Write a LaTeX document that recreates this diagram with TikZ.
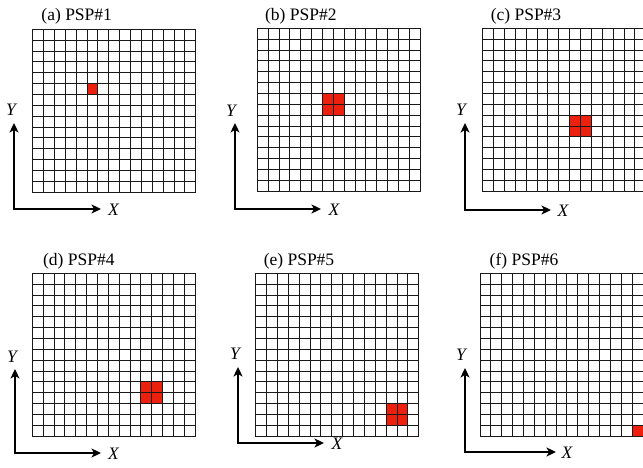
\documentclass[tikz,border=0pt]{standalone}
\usepackage{fontspec}
\setmainfont{Liberation Serif}
\usetikzlibrary{arrows.meta}
\definecolor{pspred}{RGB}{236,32,12}
\tikzset{
  gridline/.style={line width=1.15pt, draw=black!90, line cap=rect},
  axisline/.style={line width=2pt, line join=miter, {Stealth[length=9.5pt,width=9pt,inset=2.5pt]}-{Stealth[length=9.5pt,width=9pt,inset=2.5pt]}},
  paneltitle/.style={font=\fontsize{17.5}{19}\selectfont, anchor=base, inner sep=0pt},
  axislabel/.style={font=\fontsize{17.5}{19}\selectfont\itshape, inner sep=0pt}
}
\newcommand\cellsz{10.87}
\newcommand\pspgrid[3]{%
  \foreach \c/\r in {#3} {
    \pgfmathsetmacro\pspxa{floor(#1+\c*\cellsz)+0.5}
    \pgfmathsetmacro\pspxb{floor(#1+(\c+1)*\cellsz)+0.5}
    \pgfmathsetmacro\pspya{floor(#2+\r*\cellsz)+0.5}
    \pgfmathsetmacro\pspyb{floor(#2+(\r+1)*\cellsz)+0.5}
    \fill[pspred] (\pspxa,\pspya) rectangle (\pspxb,\pspyb);}
  \pgfmathsetmacro\pspxs{floor(#1)+0.5}
  \pgfmathsetmacro\pspxe{floor(#1+15*\cellsz)+0.5}
  \pgfmathsetmacro\pspys{floor(#2)+0.5}
  \pgfmathsetmacro\pspye{floor(#2+15*\cellsz)+0.5}
  \foreach \i in {0,...,15} {
    \pgfmathsetmacro\pspxi{floor(#1+\i*\cellsz)+0.5}
    \pgfmathsetmacro\pspyi{floor(#2+\i*\cellsz)+0.5}
    \draw[gridline] (\pspxi,\pspys) -- (\pspxi,\pspye);
    \draw[gridline] (\pspxs,\pspyi) -- (\pspxe,\pspyi);
  }
}
\begin{document}
\begin{tikzpicture}[x=1pt,y=-1pt]
\useasboundingbox (0,0) rectangle (643,468);
\begin{scope}
\clip (0,0) rectangle (643,468);
% panel a
\pspgrid{32.7}{29.3}{5/5}
\node[paneltitle] (ta) at (76.7,20.7) {(a) PSP\#1};
\coordinate (aO) at (14,209); \coordinate (aY) at (14,123); \coordinate (aX) at (101,209);
\draw[axisline] (aY) -- (aO) -- (aX);
\node[axislabel] (la) at (11,110) {Y};
\node[axislabel] (xa) at (113.5,210) {X};
% panel b
\pspgrid{257.3}{28.3}{6/6,7/6,6/7,7/7}
\node[paneltitle] (tb) at (300.8,20.3) {(b) PSP\#2};
\coordinate (bO) at (235,209); \coordinate (bY) at (235,123); \coordinate (bX) at (321,209);
\draw[axisline] (bY) -- (bO) -- (bX);
\node[axislabel] (lb) at (231,111) {Y};
\node[axislabel] (xb) at (334,210) {X};
% panel c
\pspgrid{482.7}{28.3}{8/8,9/8,8/9,9/9}
\node[paneltitle] (tc) at (526,20.3) {(c) PSP\#3};
\coordinate (cO) at (465,210); \coordinate (cY) at (465,123); \coordinate (cX) at (551,210);
\draw[axisline] (cY) -- (cO) -- (cX);
\node[axislabel] (lc) at (461,110) {Y};
\node[axislabel] (xc) at (563,211) {X};
% panel d
\pspgrid{32.3}{273.3}{10/10,11/10,10/11,11/11}
\node[paneltitle] (td) at (78.8,265) {(d) PSP\#4};
\coordinate (dO) at (15,453); \coordinate (dY) at (15,369); \coordinate (dX) at (101,453);
\draw[axisline] (dY) -- (dO) -- (dX);
\node[axislabel] (ld) at (12,357) {Y};
\node[axislabel] (xd) at (113.5,454) {X};
% panel e
\pspgrid{255.7}{273.3}{12/12,13/12,12/13,13/13}
\node[paneltitle] (te) at (299,265) {(e) PSP\#5};
\coordinate (eO) at (238,443); \coordinate (eY) at (238,367); \coordinate (eX) at (324,443);
\draw[axisline] (eY) -- (eO) -- (eX);
\node[axislabel] (le) at (235,354) {Y};
\node[axislabel] (xe) at (337,444) {X};
% panel f
\pspgrid{480}{273.3}{14/14}
\node[paneltitle] (tf) at (524,265) {(f) PSP\#6};
\coordinate (fO) at (465,452); \coordinate (fY) at (465,368); \coordinate (fX) at (556,452);
\draw[axisline] (fY) -- (fO) -- (fX);
\node[axislabel] (lf) at (461,355) {Y};
\node[axislabel] (xf) at (567,453) {X};
\end{scope}
\end{tikzpicture}
\end{document}
